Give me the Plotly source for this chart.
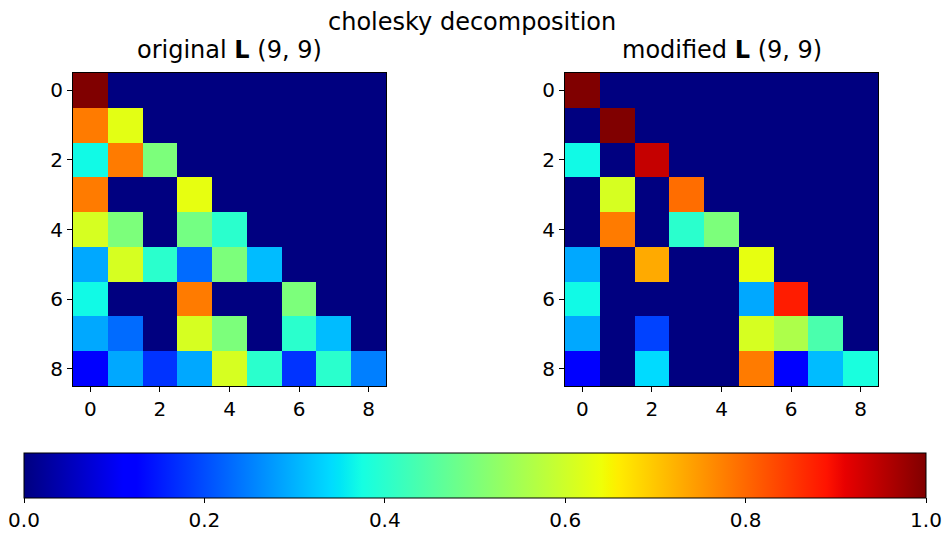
import plotly.graph_objects as go

W, H = 944, 534

ticks = [0, 2, 4, 6, 8]
cbar_ticks = [0.0, 0.2, 0.4, 0.6, 0.8, 1.0]

original_L = [
    [1.00, 0, 0, 0, 0, 0, 0, 0, 0],
    [0.78, 0.625, 0, 0, 0, 0, 0, 0, 0],
    [0.37, 0.78, 0.50, 0, 0, 0, 0, 0, 0],
    [0.78, 0, 0, 0.63, 0, 0, 0, 0, 0],
    [0.61, 0.50, 0, 0.49, 0.40, 0, 0, 0, 0],
    [0.29, 0.61, 0.40, 0.23, 0.50, 0.31, 0, 0, 0],
    [0.37, 0, 0, 0.78, 0, 0, 0.50, 0, 0],
    [0.29, 0.23, 0, 0.61, 0.50, 0, 0.40, 0.31, 0],
    [0.12, 0.29, 0.175, 0.29, 0.61, 0.40, 0.175, 0.40, 0.25],
]

modified_L = [
    [1.00, 0, 0, 0, 0, 0, 0, 0, 0],
    [0, 1.00, 0, 0, 0, 0, 0, 0, 0],
    [0.37, 0, 0.94, 0, 0, 0, 0, 0, 0],
    [0, 0.61, 0, 0.795, 0, 0, 0, 0, 0],
    [0, 0.78, 0, 0.40, 0.50, 0, 0, 0, 0],
    [0.29, 0, 0.73, 0, 0, 0.63, 0, 0, 0],
    [0.37, 0, 0, 0, 0, 0.29, 0.88, 0, 0],
    [0.29, 0, 0.19, 0, 0, 0.61, 0.56, 0.44, 0],
    [0.12, 0, 0.34, 0, 0, 0.78, 0.12, 0.31, 0.38],
]

# matplotlib "jet" colormap segment data
jet_r = [(0, 0), (0.35, 0), (0.66, 1), (0.89, 1), (1, 0.5)]
jet_g = [(0, 0), (0.125, 0), (0.375, 1), (0.64, 1), (0.91, 0), (1, 0)]
jet_b = [(0, 0.5), (0.11, 1), (0.34, 1), (0.65, 0), (1, 0)]


def interp(seg, x):
    for (x0, y0), (x1, y1) in zip(seg[:-1], seg[1:]):
        if x0 <= x <= x1:
            return y0 + (y1 - y0) * (x - x0) / (x1 - x0) if x1 > x0 else y1
    return seg[-1][1]


stops = sorted(set([p[0] for p in jet_r + jet_g + jet_b]))
jet = []
for s in stops:
    r, g, b = (round(255 * interp(c, s)) for c in (jet_r, jet_g, jet_b))
    jet.append([s, f"rgb({r},{g},{b})"])

fig = go.Figure()
fig.add_trace(go.Heatmap(z=original_L, coloraxis="coloraxis", xaxis="x", yaxis="y"))
fig.add_trace(go.Heatmap(z=modified_L, coloraxis="coloraxis", xaxis="x2", yaxis="y2"))

font = dict(family="DejaVu Sans", color="black")

ax_common = dict(
    tickvals=ticks, ticks="outside", ticklen=5, tickcolor="black", tickwidth=1,
    showline=True, linecolor="black", linewidth=1, mirror=True,
    showgrid=False, zeroline=False, tickfont=dict(size=20, **font),
)

y0 = 1 - 386 / H
y1 = 1 - 73 / H

fig.update_layout(
    width=W, height=H,
    margin=dict(l=0, r=0, t=0, b=0, autoexpand=False),
    paper_bgcolor="white", plot_bgcolor="white",
    font=dict(size=20, **font),
    xaxis=dict(domain=[73 / W, 386 / W], range=[-0.5, 8.5], anchor="y", **ax_common),
    yaxis=dict(domain=[y0, y1], range=[8.5, -0.5], anchor="x", **ax_common),
    xaxis2=dict(domain=[565 / W, 878 / W], range=[-0.5, 8.5], anchor="y2", **ax_common),
    yaxis2=dict(domain=[y0, y1], range=[8.5, -0.5], anchor="x2", **ax_common),
    coloraxis=dict(
        colorscale=jet, cmin=0, cmax=1,
        colorbar=dict(
            orientation="h", x=24 / W, xanchor="left", y=1 - 453 / H, yanchor="top",
            lenmode="pixels", len=902, thickness=45, thicknessmode="pixels",
            xpad=0, ypad=0, outlinewidth=1, outlinecolor="black",
            tickvals=cbar_ticks, ticktext=[f"{t:.1f}" for t in cbar_ticks],
            ticks="outside", ticklen=5, tickcolor="black",
            tickfont=dict(size=20, **font),
        ),
    ),
    annotations=[
        dict(text="cholesky decomposition", x=0.5, y=1 - 22 / H, xref="paper", yref="paper",
             showarrow=False, xanchor="center", yanchor="middle", font=dict(size=24, **font)),
        dict(text="original <b>L</b> (9, 9)", x=229.5 / W, y=1 - 50 / H, xref="paper", yref="paper",
             showarrow=False, xanchor="center", yanchor="middle", font=dict(size=24, **font)),
        dict(text="modified <b>L</b> (9, 9)", x=721.5 / W, y=1 - 50 / H, xref="paper", yref="paper",
             showarrow=False, xanchor="center", yanchor="middle", font=dict(size=24, **font)),
    ],
)

fig.write_html("out.html", config={"displayModeBar": False},
               post_script="document.body.style.margin='0px';")
